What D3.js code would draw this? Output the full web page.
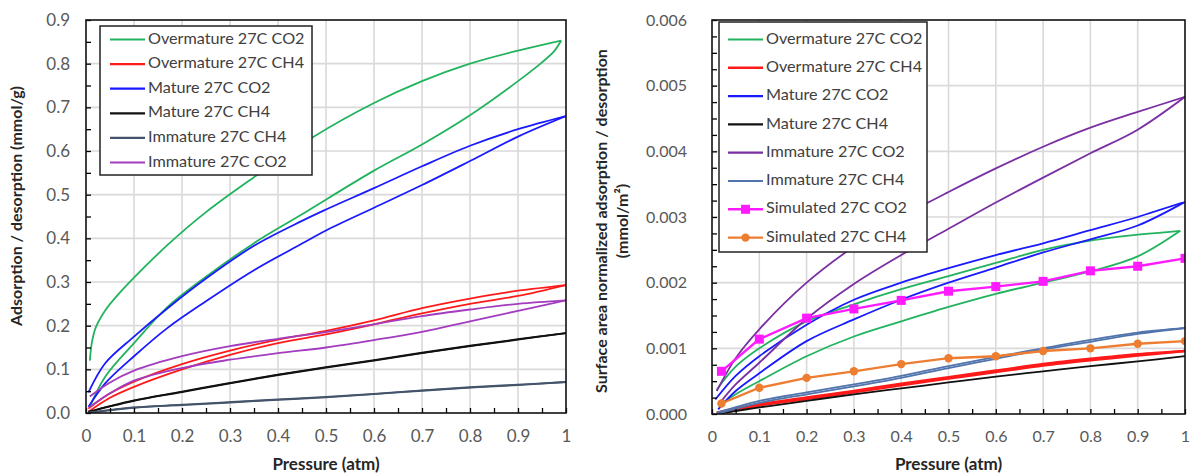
<!DOCTYPE html>
<html>
<head>
<meta charset="utf-8">
<script src="https://cdn.jsdelivr.net/npm/d3@7"></script>
<style>
  body { margin: 0; background: #fff; }
  text { font-family: Lato, "Open Sans", sans-serif; }
</style>
</head>
<body>
<div id="chart"></div>
<script>
// pressure ticks shared by both panels
const pressureTicks = [0, 0.1, 0.2, 0.3, 0.4, 0.5, 0.6, 0.7, 0.8, 0.9, 1];
const leftYTicks = [0, 0.1, 0.2, 0.3, 0.4, 0.5, 0.6, 0.7, 0.8, 0.9];
const rightYTicks = [0, 0.001, 0.002, 0.003, 0.004, 0.005, 0.006];

// ---- left panel: adsorption (ads) and desorption (des) branches, [pressure, mmol/g]
const overCO2Ads = [[0.008,0.014],[0.04,0.083],[0.1,0.16],[0.17,0.243],[0.25,0.312],[0.35,0.389],[0.45,0.455],[0.6,0.555],[0.7,0.615],[0.8,0.682],[0.9,0.76],[0.95,0.803],[0.975,0.828],[0.99,0.853]];
const overCO2Des = [[0.008,0.12],[0.012,0.16],[0.02,0.195],[0.04,0.235],[0.07,0.275],[0.1,0.31],[0.17,0.385],[0.25,0.46],[0.35,0.54],[0.47,0.63],[0.6,0.71],[0.7,0.76],[0.8,0.8],[0.9,0.83],[0.99,0.853]];
const overCH4Ads = [[0.005,0.003],[0.05,0.035],[0.1,0.06],[0.2,0.1],[0.3,0.133],[0.4,0.16],[0.5,0.18],[0.6,0.203],[0.7,0.228],[0.8,0.25],[0.9,0.268],[1.0,0.293]];
const overCH4Des = [[0.005,0.01],[0.05,0.045],[0.1,0.072],[0.2,0.112],[0.3,0.143],[0.4,0.168],[0.5,0.188],[0.6,0.212],[0.7,0.24],[0.8,0.262],[0.9,0.28],[1.0,0.293]];
const matCO2Ads = [[0.005,0.014],[0.04,0.068],[0.1,0.13],[0.17,0.195],[0.25,0.256],[0.35,0.327],[0.45,0.388],[0.5,0.418],[0.6,0.47],[0.7,0.522],[0.8,0.577],[0.9,0.633],[1.0,0.68]];
const matCO2Des = [[0.005,0.047],[0.04,0.114],[0.1,0.175],[0.17,0.24],[0.25,0.308],[0.35,0.383],[0.45,0.44],[0.5,0.466],[0.6,0.515],[0.7,0.565],[0.8,0.612],[0.9,0.65],[1.0,0.68]];
const matCH4Ads = [[0.005,0.002],[0.05,0.015],[0.1,0.028],[0.2,0.048],[0.3,0.068],[0.4,0.087],[0.5,0.104],[0.6,0.12],[0.7,0.137],[0.8,0.153],[0.9,0.168],[1.0,0.183]];
const matCH4Des = [[0.005,0.003],[0.05,0.016],[0.1,0.029],[0.2,0.049],[0.3,0.069],[0.4,0.088],[0.5,0.105],[0.6,0.121],[0.7,0.138],[0.8,0.154],[0.9,0.169],[1.0,0.183]];
const immCH4Ads = [[0.005,0.0],[0.05,0.006],[0.1,0.012],[0.2,0.018],[0.3,0.024],[0.4,0.03],[0.5,0.036],[0.6,0.043],[0.7,0.051],[0.8,0.058],[0.9,0.064],[1.0,0.071]];
const immCH4Des = [[0.005,0.001],[0.05,0.007],[0.1,0.013],[0.2,0.019],[0.3,0.025],[0.4,0.031],[0.5,0.037],[0.6,0.044],[0.7,0.052],[0.8,0.059],[0.9,0.065],[1.0,0.071]];
const immCO2Ads = [[0.008,0.014],[0.05,0.045],[0.1,0.074],[0.2,0.103],[0.3,0.122],[0.4,0.137],[0.5,0.15],[0.6,0.167],[0.7,0.186],[0.8,0.21],[0.9,0.234],[1.0,0.258]];
const immCO2Des = [[0.008,0.038],[0.05,0.07],[0.1,0.097],[0.2,0.13],[0.3,0.153],[0.4,0.17],[0.5,0.185],[0.6,0.203],[0.7,0.222],[0.8,0.237],[0.9,0.25],[1.0,0.258]];

// ---- right panel: surface area normalized, [pressure, mmol/m2]
const nOverCO2Ads = [[0.013,0.00012],[0.05,0.0003],[0.1,0.0005],[0.2,0.00088],[0.3,0.00118],[0.4,0.00141],[0.5,0.00163],[0.6,0.00183],[0.7,0.002],[0.8,0.00217],[0.9,0.0024],[0.99,0.00279]];
const nOverCO2Des = [[0.01,0.00037],[0.05,0.00072],[0.1,0.001],[0.2,0.00141],[0.3,0.00167],[0.4,0.0019],[0.5,0.0021],[0.6,0.0023],[0.7,0.0025],[0.8,0.00264],[0.9,0.00273],[0.99,0.00279]];
const nOverCH4Ads = [[0.01,0.0],[0.1,0.00013],[0.2,0.00023],[0.3,0.00033],[0.4,0.00044],[0.5,0.00054],[0.6,0.00064],[0.7,0.00074],[0.8,0.00082],[0.9,0.00089],[1.0,0.00096]];
const nOverCH4Des = [[0.01,0.00002],[0.1,0.00015],[0.2,0.00025],[0.3,0.00035],[0.4,0.00046],[0.5,0.00056],[0.6,0.00066],[0.7,0.00076],[0.8,0.00084],[0.9,0.00091],[1.0,0.00096]];
const nMatCO2Ads = [[0.013,0.00007],[0.05,0.00035],[0.1,0.00062],[0.2,0.00111],[0.3,0.00144],[0.4,0.00174],[0.5,0.002],[0.6,0.00223],[0.7,0.00246],[0.8,0.00266],[0.9,0.00287],[1.0,0.00323]];
const nMatCO2Des = [[0.007,0.00022],[0.05,0.00058],[0.1,0.00088],[0.2,0.00136],[0.3,0.00174],[0.4,0.002],[0.5,0.00222],[0.6,0.00242],[0.7,0.0026],[0.8,0.0028],[0.9,0.003],[1.0,0.00323]];
const nMatCH4 = [[0.01,0.0],[0.1,0.0001],[0.2,0.0002],[0.3,0.0003],[0.4,0.00039],[0.5,0.00048],[0.6,0.00057],[0.7,0.00065],[0.8,0.00073],[0.9,0.0008],[1.0,0.00088]];
const nImmCO2Ads = [[0.017,0.00017],[0.05,0.00045],[0.1,0.00078],[0.2,0.00145],[0.3,0.00198],[0.4,0.00242],[0.5,0.00282],[0.6,0.00322],[0.7,0.0036],[0.8,0.00397],[0.9,0.00433],[1.0,0.00483]];
const nImmCO2Des = [[0.01,0.00035],[0.05,0.00085],[0.1,0.00129],[0.2,0.002],[0.3,0.00255],[0.4,0.003],[0.5,0.00338],[0.6,0.00374],[0.7,0.00407],[0.8,0.00436],[0.9,0.0046],[1.0,0.00483]];
const nImmCH4Ads = [[0.01,0.0],[0.1,0.00017],[0.2,0.0003],[0.3,0.00042],[0.4,0.00055],[0.5,0.0007],[0.6,0.00084],[0.7,0.00098],[0.8,0.0011],[0.9,0.00122],[1.0,0.00131]];
const nImmCH4Des = [[0.01,0.00002],[0.1,0.0002],[0.2,0.00033],[0.3,0.00045],[0.4,0.00058],[0.5,0.00073],[0.6,0.00087],[0.7,0.001],[0.8,0.00113],[0.9,0.00124],[1.0,0.00131]];
const simPressure = [0.02, 0.1, 0.2, 0.3, 0.4, 0.5, 0.6, 0.7, 0.8, 0.9, 1.0];
const simCO2 = [0.00065, 0.00114, 0.00146, 0.0016, 0.00173, 0.00187, 0.00194, 0.00202, 0.00218, 0.00225, 0.00237];
const simCH4 = [0.00016, 0.0004, 0.00055, 0.00065, 0.00076, 0.00085, 0.00088, 0.00096, 0.001, 0.00107, 0.00111];

const C = {
    green: "#22b35e", red: "#ff1a1a", blue: "#1a1aff", black: "#111111",
    slate: "#44546a", purpleL: "#a33cbf", purpleR: "#7a2fa3", steel: "#5174ad",
    magenta: "#ff1aff", orange: "#ed7d31"
};

const leftSeries = [
    { name: "Overmature 27C CO2", color: C.green, branches: [overCO2Ads, overCO2Des] },
    { name: "Overmature 27C CH4", color: C.red, branches: [overCH4Ads, overCH4Des] },
    { name: "Mature 27C CO2", color: C.blue, branches: [matCO2Ads, matCO2Des] },
    { name: "Mature 27C CH4", color: C.black, branches: [matCH4Ads, matCH4Des] },
    { name: "Immature 27C CH4", color: C.slate, branches: [immCH4Ads, immCH4Des] },
    { name: "Immature 27C CO2", color: C.purpleL, branches: [immCO2Ads, immCO2Des] }
];

const rightSeries = [
    { name: "Overmature 27C CO2", color: C.green, branches: [nOverCO2Ads, nOverCO2Des] },
    { name: "Overmature 27C CH4", color: C.red, branches: [nOverCH4Ads, nOverCH4Des], width: 2.6 },
    { name: "Mature 27C CO2", color: C.blue, branches: [nMatCO2Ads, nMatCO2Des] },
    { name: "Mature 27C CH4", color: C.black, branches: [nMatCH4] },
    { name: "Immature 27C CO2", color: C.purpleR, branches: [nImmCO2Ads, nImmCO2Des] },
    { name: "Immature 27C CH4", color: C.steel, branches: [nImmCH4Ads, nImmCH4Des] },
    { name: "Simulated 27C CO2", color: C.magenta, marker: "square",
      branches: [simPressure.map((p, i) => [p, simCO2[i]])], width: 2.4, straight: true },
    { name: "Simulated 27C CH4", color: C.orange, marker: "circle",
      branches: [simPressure.map((p, i) => [p, simCH4[i]])], width: 2.4, straight: true }
];

const svg = d3.select("#chart").append("svg")
    .attr("width", 1193)
    .attr("height", 474);

svg.append("rect").attr("width", 1193).attr("height", 474).attr("fill", "#fff");

function panel(cfg) {
    const x = d3.scaleLinear().domain([0, 1]).range([cfg.left, cfg.right]);
    const y = d3.scaleLinear().domain(cfg.yDomain).range([cfg.bottom, cfg.top]);
    const g = svg.append("g");

    // grid
    g.selectAll(".vgrid").data(pressureTicks.slice(1, -1)).enter().append("line")
        .attr("x1", d => x(d)).attr("x2", d => x(d))
        .attr("y1", cfg.top).attr("y2", cfg.bottom)
        .attr("stroke", "#d9d9d9").attr("stroke-width", 1.6);
    g.selectAll(".hgrid").data(cfg.yTicks.slice(1, -1)).enter().append("line")
        .attr("x1", cfg.left).attr("x2", cfg.right)
        .attr("y1", d => y(d)).attr("y2", d => y(d))
        .attr("stroke", "#d9d9d9").attr("stroke-width", 1.6);

    const clipId = "clip" + cfg.left;
    svg.append("clipPath").attr("id", clipId).append("rect")
        .attr("x", cfg.left).attr("y", cfg.top)
        .attr("width", cfg.right - cfg.left).attr("height", cfg.bottom - cfg.top);

    const plot = g.append("g").attr("clip-path", `url(#${clipId})`);
    cfg.series.forEach(s => {
        const line = d3.line().x(d => x(d[0])).y(d => y(d[1]))
            .curve(s.straight ? d3.curveLinear : d3.curveCatmullRom.alpha(0.5));
        s.branches.forEach(b => {
            plot.append("path").attr("d", line(b))
                .attr("fill", "none").attr("stroke", s.color)
                .attr("stroke-width", s.width || 1.8);
        });
        if (s.marker === "square") {
            plot.selectAll(null).data(s.branches[0]).enter().append("rect")
                .attr("x", d => x(d[0]) - 4.5).attr("y", d => y(d[1]) - 4.5)
                .attr("width", 9).attr("height", 9).attr("fill", s.color);
        } else if (s.marker === "circle") {
            plot.selectAll(null).data(s.branches[0]).enter().append("circle")
                .attr("cx", d => x(d[0])).attr("cy", d => y(d[1]))
                .attr("r", 4.2).attr("fill", s.color);
        }
    });

    // inner ticks
    const xMinor = d3.range(0, 1.0001, 0.05);
    g.append("g").attr("transform", `translate(0,${cfg.bottom})`)
        .call(d3.axisBottom(x).tickValues(xMinor).tickSize(-5).tickFormat(""))
        .call(a => a.select(".domain").remove())
        .selectAll("line").attr("stroke", "#000").attr("stroke-width", 1.3);
    const yMinor = d3.range(cfg.yDomain[0], cfg.yDomain[1] + cfg.yMinor / 2, cfg.yMinor);
    g.append("g").attr("transform", `translate(${cfg.left},0)`)
        .call(d3.axisLeft(y).tickValues(yMinor).tickSize(-5).tickFormat(""))
        .call(a => a.select(".domain").remove())
        .selectAll("line").attr("stroke", "#000").attr("stroke-width", 1.3);

    // labels
    g.append("g").attr("transform", `translate(0,${cfg.bottom})`)
        .call(d3.axisBottom(x).tickValues(pressureTicks).tickSize(0).tickPadding(17)
            .tickFormat(d => (d === 0 || d === 1) ? String(d) : d.toFixed(1)))
        .call(a => a.select(".domain").remove())
        .selectAll("text").attr("font-size", cfg.tickSize).attr("fill", "#595959")
        .style("font-family", "Lato, sans-serif");
    g.append("g").attr("transform", `translate(${cfg.left},0)`)
        .call(d3.axisLeft(y).tickValues(cfg.yTicks).tickSize(0).tickPadding(cfg.yPad)
            .tickFormat(d => d.toFixed(cfg.digits)))
        .call(a => a.select(".domain").remove())
        .selectAll("text").attr("font-size", cfg.tickSize).attr("fill", "#595959")
        .style("font-family", "Lato, sans-serif");

    // frame
    g.append("rect")
        .attr("x", cfg.left).attr("y", cfg.top)
        .attr("width", cfg.right - cfg.left).attr("height", cfg.bottom - cfg.top)
        .attr("fill", "none").attr("stroke", "#111").attr("stroke-width", 1.6);

    // axis titles
    g.append("text")
        .attr("x", (cfg.left + cfg.right) / 2).attr("y", 466)
        .attr("text-anchor", "middle").attr("dominant-baseline", "middle")
        .attr("font-size", 17).attr("font-weight", "bold").attr("fill", "#262626")
        .text("Pressure (atm)");
    cfg.yTitle.forEach((t, i) => {
        g.append("text")
            .attr("transform", `translate(${cfg.yTitleX[i]},${cfg.yTitleY}) rotate(-90)`)
            .attr("text-anchor", "middle").attr("dominant-baseline", "middle")
            .attr("font-size", 16).attr("font-weight", "bold").attr("fill", "#262626")
            .text(t);
    });

    // legend
    const L = cfg.legend;
    const lg = g.append("g");
    lg.append("rect").attr("x", L.x).attr("y", L.y).attr("width", L.w).attr("height", L.h)
        .attr("fill", "#fff").attr("stroke", "#222").attr("stroke-width", 1.5);
    const rows = lg.selectAll(".row").data(cfg.series).enter().append("g")
        .attr("transform", (d, i) => `translate(0,${L.y0 + i * L.dy})`);
    rows.append("line").attr("x1", L.lx).attr("x2", L.lx + 35)
        .attr("stroke", d => d.color).attr("stroke-width", d => d.width || 2.2);
    rows.filter(d => d.marker === "square").append("rect")
        .attr("x", L.lx + 13).attr("y", -4.5).attr("width", 9).attr("height", 9)
        .attr("fill", d => d.color);
    rows.filter(d => d.marker === "circle").append("circle")
        .attr("cx", L.lx + 17.5).attr("r", 4.2).attr("fill", d => d.color);
    rows.append("text").attr("x", L.lx + 38).attr("dominant-baseline", "middle")
        .attr("font-size", L.fs).attr("fill", "#404040").text(d => d.name);
}

panel({
    left: 86, right: 566, top: 20, bottom: 413,
    yDomain: [0, 0.9], yTicks: leftYTicks, yMinor: 0.05, digits: 1, yPad: 16,
    tickSize: 17, series: leftSeries,
    yTitle: ["Adsorption / desorption (mmol/g)"], yTitleX: [18], yTitleY: 206,
    legend: { x: 100, y: 26, w: 212, h: 149, y0: 39.5, dy: 24.6, lx: 110, fs: 16.2 }
});

panel({
    left: 712, right: 1185, top: 20, bottom: 414,
    yDomain: [0, 0.006], yTicks: rightYTicks, yMinor: 0.00025, digits: 3, yPad: 25,
    tickSize: 16, series: rightSeries,
    yTitle: ["Surface area normalized adsorption / desorption", "(mmol/m\u00b2)"],
    yTitleX: [603, 624], yTitleY: 221,
    legend: { x: 719, y: 22, w: 208, h: 230, y0: 39.5, dy: 28.3, lx: 728, fs: 16.2 }
});
</script>
</body>
</html>
